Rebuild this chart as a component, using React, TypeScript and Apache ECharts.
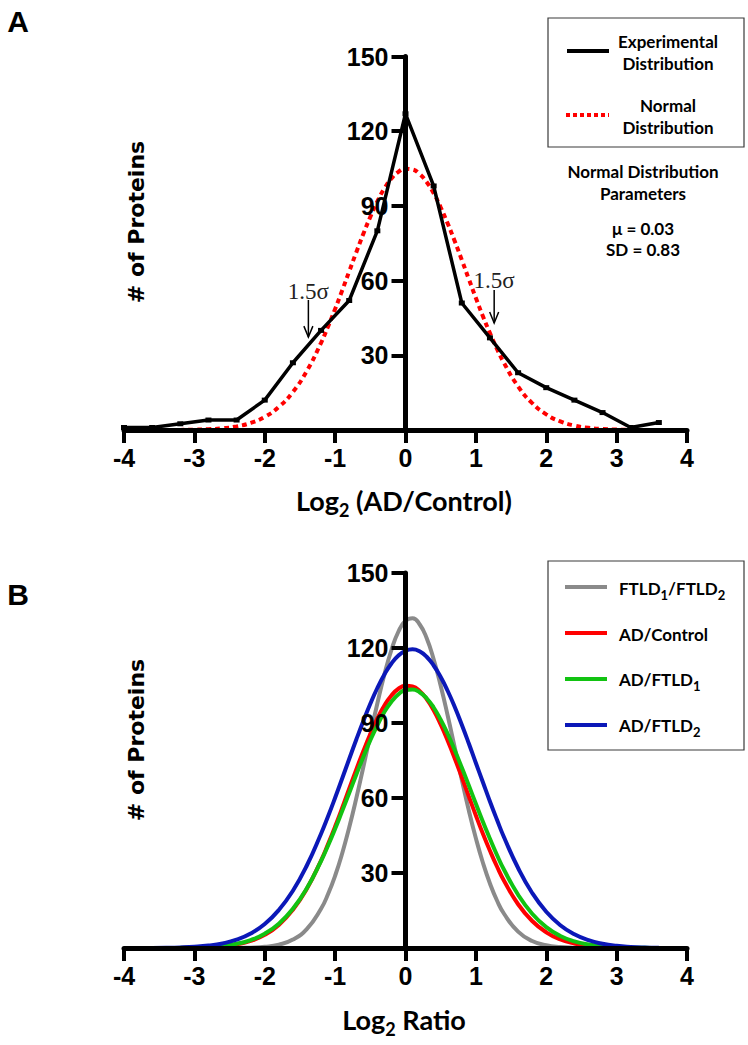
import React, { useEffect, useRef } from "react";
import * as echarts from "echarts";

// ---------- Panel A data ----------
const EXP_X = [-4.0, -3.6, -3.2, -2.8, -2.4, -2.0, -1.6, -1.2, -0.8, -0.4, 0.0, 0.4, 0.8, 1.2, 1.6, 2.0, 2.4, 2.8, 3.2, 3.6];
const EXP_Y = [1, 1, 2.5, 4, 4, 12, 27, 40, 52, 80, 127, 98, 51, 37, 23, 17, 12, 7, 1, 3];

// ---------- Fitted normal curves ----------
const FIT_X = [
  -3.6, -3.4, -3.2, -3.0, -2.8, -2.6, -2.4, -2.2, -2.0, -1.8, -1.6, -1.4, -1.2,
  -1.1, -1.0, -0.9, -0.8, -0.7, -0.6, -0.5, -0.4, -0.3, -0.2, -0.1, 0.0, 0.1, 0.2, 0.3, 0.4, 0.5, 0.6, 0.7, 0.8, 0.9, 1.0, 1.1, 1.2, 1.3, 1.4,
  1.6, 1.8, 2.0, 2.2, 2.4, 2.6, 2.8, 3.0, 3.2, 3.4, 3.6, 3.8,
];
const AD_CONTROL = [
  0.01, 0.02, 0.05, 0.13, 0.31, 0.69, 1.44, 2.84, 5.28, 9.24, 15.3, 23.8, 35.0,
  41.6, 48.6, 56.0, 63.7, 71.3, 78.7, 85.6, 91.8, 97.0, 101.0, 103.7, 104.9, 104.6, 102.8, 99.6, 95.1, 89.4, 82.9, 75.8, 68.3, 60.6, 53.0, 45.7, 38.9, 32.6, 26.9,
  17.5, 10.8, 6.28, 3.44, 1.78, 0.87, 0.40, 0.17, 0.07, 0.03, 0.01, 0,
];
const FTLD1_FTLD2 = [
  0, 0, 0, 0, 0, 0.01, 0.04, 0.15, 0.47, 1.33, 3.36, 7.64, 15.7,
  21.6, 28.9, 37.8, 48.2, 59.8, 72.3, 85.2, 97.8, 109.4, 119.2, 126.6, 130.9, 131.9, 129.5, 124.0, 115.5, 104.9, 92.9, 80.1, 67.3, 55.0, 43.9, 34.1, 25.8, 19.0, 13.7,
  6.54, 2.81, 1.09, 0.38, 0.12, 0.03, 0, 0, 0, 0, 0, 0,
];
const AD_FTLD1 = [
  0.01, 0.03, 0.08, 0.18, 0.40, 0.84, 1.67, 3.18, 5.71, 9.73, 15.7, 24.0, 34.8,
  41.0, 47.7, 54.8, 62.0, 69.3, 76.4, 83.1, 89.1, 94.4, 98.5, 101.5, 103.2, 103.4, 102.3, 99.9, 96.2, 91.3, 85.6, 79.1, 72.2, 65.0, 57.7, 50.5, 43.7, 37.2, 31.3,
  21.3, 13.7, 8.34, 4.82, 2.64, 1.37, 0.67, 0.31, 0.14, 0.06, 0.02, 0.01,
];
const AD_FTLD2 = [
  0.05, 0.10, 0.23, 0.48, 0.96, 1.82, 3.32, 5.77, 9.57, 15.2, 22.9, 33.1, 45.7,
  52.7, 60.1, 67.8, 75.6, 83.3, 90.7, 97.7, 104.0, 109.4, 113.8, 117.0, 118.9, 119.5, 118.7, 116.5, 113.0, 108.4, 102.8, 96.4, 89.3, 81.8, 74.0, 66.3, 58.6, 51.3, 44.3,
  32.0, 22.0, 14.5, 9.11, 5.47, 3.13, 1.71, 0.89, 0.45, 0.21, 0.10, 0.04,
];

// ---------- Axes ----------
const X_MIN = -4;
const X_MAX = 4;
const X_STEP = 1;
const Y_MIN = 0;
const Y_MAX = 150;
const Y_STEP = 30;
const Y_TICK_LABELS = ["30", "60", "90", "120", "150"];

// ---------- Annotations (data coordinates) ----------
const SIGMA_TEXT = "1.5σ";
const SIGMA_MARKS = [
  { x: -1.38, textY: 55.5, from: 52.2, to: 37.3 },
  { x: 1.26, textY: 60.2, from: 56.2, to: 43.0 },
];

const FONT_AX = '"Liberation Sans", Arial, sans-serif';
const FONT_CAL = 'Lato, "Open Sans", sans-serif';
const FONT_VER = '"DejaVu Sans", Verdana, sans-serif';
const FONT_SERIF = '"Liberation Serif", "Times New Roman", serif';

const COLORS = {
  gray: "#8a8a8a",
  red: "#ff0000",
  green: "#12c312",
  blue: "#0b18b8",
};

const GRID_W = 563;

function xAxisCfg(gridIndex: number) {
  return {
    type: "value",
    gridIndex,
    min: X_MIN,
    max: X_MAX,
    interval: X_STEP,
    z: 3,
    axisLine: { show: true, onZero: false, lineStyle: { color: "#000", width: 5 } },
    axisTick: { show: true, length: 13, lineStyle: { color: "#000", width: 4 } },
    axisLabel: { margin: 15, fontFamily: FONT_AX, fontWeight: "bold", fontSize: 25, color: "#000" },
    splitLine: { show: false },
  };
}

function yAxisCfg(gridIndex: number) {
  return {
    type: "value",
    gridIndex,
    min: Y_MIN,
    max: Y_MAX,
    interval: Y_STEP,
    z: 3,
    position: "left",
    // move the axis onto x = 0 of the value x-axis
    offset: -GRID_W * (0 - X_MIN) / (X_MAX - X_MIN),
    axisLine: { show: true, onZero: false, lineStyle: { color: "#000", width: 5 } },
    axisTick: { show: true, length: 14, lineStyle: { color: "#000", width: 4 } },
    axisLabel: {
      margin: 17,
      fontFamily: FONT_AX,
      fontWeight: "bold",
      fontSize: 25,
      color: "#000",
      formatter: (v: number) => (Y_TICK_LABELS.indexOf(String(v)) >= 0 ? String(v) : ""),
    },
    splitLine: { show: false },
  };
}

const pairs = (xs: number[], ys: number[]) => ys.map((v, i) => [xs[i], v]);

function txt(x: number, y: number, text: string, fontSize: number, fontFamily: string, fontWeight = "bold", align = "center", extra: any = {}) {
  return {
    type: "text",
    x,
    y,
    z: 10,
    ...extra,
    style: {
      text,
      fill: "#000",
      fontSize,
      fontFamily,
      fontWeight,
      align,
      verticalAlign: "middle",
      textAlign: align,
      textVerticalAlign: "middle",
      ...(extra.style || {}),
    },
  };
}

function subText(x: number, y: number, text: string, fontSize: number, subSize: number, lh: number, align: string) {
  return {
    type: "text",
    x,
    y,
    z: 10,
    style: {
      text,
      fill: "#000",
      fontSize,
      fontFamily: FONT_CAL,
      fontWeight: "bold",
      align,
      verticalAlign: "middle",
      textAlign: align,
      textVerticalAlign: "middle",
      rich: {
        a: { fontSize, fontFamily: FONT_CAL, fontWeight: "bold", lineHeight: lh, verticalAlign: "middle", fill: "#000" },
        s: { fontSize: subSize, fontFamily: FONT_CAL, fontWeight: "bold", lineHeight: subSize, verticalAlign: "bottom", fill: "#000" },
      },
    },
  };
}

export default function App() {
  const ref = useRef<HTMLDivElement>(null);

  useEffect(() => {
    if (!ref.current) return;
    const chart = echarts.init(ref.current, null, { renderer: "svg" });

    const curve = (name: string, xi: number, ys: number[], color: string, extra: any = {}) => ({
      name,
      type: "line",
      xAxisIndex: xi,
      yAxisIndex: xi,
      data: pairs(FIT_X, ys),
      smooth: true,
      symbol: "none",
      lineStyle: { color, width: 4, ...extra },
      z: 2,
    });

    const option: any = {
      animation: false,
      backgroundColor: "#fff",
      grid: [
        { left: 124, top: 56.5, width: GRID_W, height: 373.5 },
        { left: 124, top: 573, width: GRID_W, height: 375 },
      ],
      xAxis: [xAxisCfg(0), xAxisCfg(1)],
      yAxis: [yAxisCfg(0), yAxisCfg(1)],
      series: [
        curve("Normal Distribution", 0, AD_CONTROL, COLORS.red, { type: [5, 4] }),
        {
          name: "Experimental Distribution",
          type: "line",
          xAxisIndex: 0,
          yAxisIndex: 0,
          data: pairs(EXP_X, EXP_Y),
          symbol: "rect",
          symbolSize: [6, 5],
          itemStyle: { color: "#000" },
          lineStyle: { color: "#000", width: 3.5 },
          z: 2,
        },
        curve("FTLD1/FTLD2", 1, FTLD1_FTLD2, COLORS.gray),
        curve("AD/Control", 1, AD_CONTROL, COLORS.red),
        curve("AD/FTLD1", 1, AD_FTLD1, COLORS.green),
        curve("AD/FTLD2", 1, AD_FTLD2, COLORS.blue),
      ],
    };
    chart.setOption(option);

    const px = (x: number, y: number) => chart.convertToPixel({ gridIndex: 0 } as any, [x, y]) as number[];

    const annotations: any[] = [];
    SIGMA_MARKS.forEach((m) => {
      const t = px(m.x, m.textY);
      const a = px(m.x, m.from);
      const b = px(m.x, m.to);
      annotations.push(txt(t[0], t[1], SIGMA_TEXT, 23, FONT_SERIF, "normal", "center", { style: { fill: "#222" } }));
      annotations.push({ type: "line", z: 10, shape: { x1: a[0], y1: a[1], x2: b[0], y2: b[1] }, style: { stroke: "#000", lineWidth: 1.5 } });
      annotations.push({
        type: "polyline",
        z: 10,
        shape: { points: [[b[0] - 4.5, b[1] - 11], [b[0], b[1]], [b[0] + 4.5, b[1] - 11]] },
        style: { stroke: "#000", lineWidth: 1.5, fill: "none" },
      });
    });

    const legendLine = (x1: number, x2: number, y: number, color: string, dash?: number[]) => ({
      type: "line",
      z: 10,
      shape: { x1, y1: y, x2, y2: y },
      style: { stroke: color, lineWidth: 4, lineDash: dash || null },
    });

    const graphics: any[] = [
      txt(18, 21, "A", 30, FONT_AX),
      txt(18, 594, "B", 30, FONT_AX),
      txt(136, 222, "# of Proteins", 22, FONT_VER, "bold", "center", { rotation: Math.PI / 2 }),
      txt(136, 740, "# of Proteins", 22, FONT_VER, "bold", "center", { rotation: Math.PI / 2 }),
      subText(404, 500, "{a|Log}{s|2}{a| (AD/Control)}", 27, 18, 38, "center"),
      subText(404, 1019, "{a|Log}{s|2}{a| Ratio}", 27, 18, 38, "center"),
      // legend A
      { type: "rect", z: 9, shape: { x: 548, y: 18, width: 196, height: 129 }, style: { fill: "none", stroke: "#3a3a3a", lineWidth: 1.2 } },
      legendLine(567, 609, 51, "#000"),
      legendLine(566, 609, 115, COLORS.red, [4, 3]),
      txt(668, 41, "Experimental", 17, FONT_CAL),
      txt(668, 63, "Distribution", 17, FONT_CAL),
      txt(668, 105, "Normal", 17, FONT_CAL),
      txt(668, 127, "Distribution", 17, FONT_CAL),
      txt(643, 171, "Normal Distribution", 17, FONT_CAL),
      txt(643, 193, "Parameters", 17, FONT_CAL),
      txt(643, 228, "μ = 0.03", 17, FONT_CAL),
      txt(643, 249, "SD = 0.83", 17, FONT_CAL),
      // legend B
      { type: "rect", z: 9, shape: { x: 548, y: 561, width: 196, height: 189 }, style: { fill: "none", stroke: "#3a3a3a", lineWidth: 1.2 } },
      legendLine(565, 607, 587, COLORS.gray),
      legendLine(565, 607, 633, COLORS.red),
      legendLine(565, 607, 679, COLORS.green),
      legendLine(565, 607, 725, COLORS.blue),
      subText(619, 588, "{a|FTLD}{s|1}{a|/FTLD}{s|2}", 17, 13, 26, "left"),
      subText(619, 634, "{a|AD/Control}", 17, 13, 26, "left"),
      subText(619, 679, "{a|AD/FTLD}{s|1}", 17, 13, 26, "left"),
      subText(619, 725, "{a|AD/FTLD}{s|2}", 17, 13, 26, "left"),
      ...annotations,
    ];

    chart.setOption({ graphic: graphics });

    return () => chart.dispose();
  }, []);

  return (
    <div
      ref={ref}
      style={{ position: "absolute", left: 0, top: 0, width: 748, height: 1045, background: "#fff" }}
    />
  );
}
